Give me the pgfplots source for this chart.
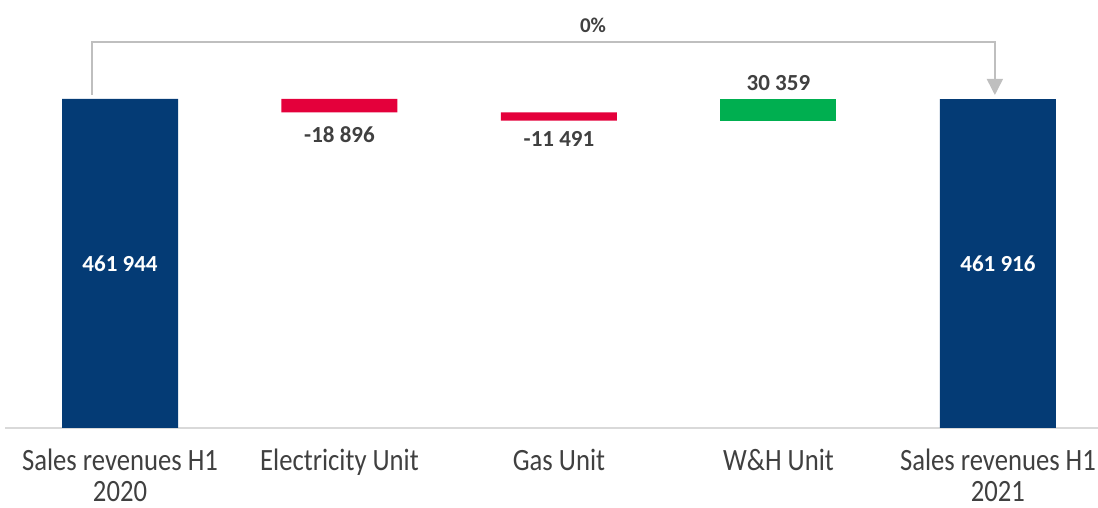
\documentclass[border=0pt]{standalone}
\usepackage{pgfplots}
\pgfplotsset{compat=1.18}
\usepackage{fontspec}
\setmainfont{Carlito}
\newfontfamily\tickfont{Carlito}[FakeStretch=0.86]
\usetikzlibrary{arrows.meta}
\definecolor{navy}{HTML}{043B75}
\definecolor{wred}{HTML}{E4003B}
\definecolor{wgreen}{HTML}{00AF50}
\definecolor{txtgray}{HTML}{404040}
\definecolor{axgray}{HTML}{D9D9D9}
\definecolor{congray}{HTML}{BFBFBF}
\newcommand{\nodepth}[1]{\raisebox{0pt}[\height][0pt]{#1}}
\begin{document}
\begin{tikzpicture}
\begin{axis}[
  at={(0,0)}, anchor=south west, scale only axis,
  width=1093pt, height=428pt,
  xmin=-0.524, xmax=4.456, ymin=0, ymax=600950,
  axis x line=bottom, axis y line=none,
  x axis line style={-, draw=axgray, line width=1.5pt},
  ytick=\empty, xtick={0,1,2,3,4}, major tick length=0pt,
  xticklabels={Sales revenues H1\\\nodepth{2020}, Electricity Unit, Gas Unit, W\&H Unit, Sales revenues H1\\\nodepth{2021}},
  xticklabel style={font=\tickfont\fontsize{31}{31}\selectfont, text=txtgray, align=center, anchor=north, inner sep=0pt, yshift=-21pt},
  ybar stacked, bar width=116pt,
  clip=false,
]
\addplot[draw=none, fill=none] coordinates {(0,0) (1,443048) (2,431557) (3,431557) (4,0)};
\addplot[draw=none, fill=navy] coordinates {(0,461944) (1,0) (2,0) (3,0) (4,461916)};
\addplot[draw=none, fill=wred] coordinates {(0,0) (1,18896) (2,11491) (3,0) (4,0)};
\addplot[draw=none, fill=wgreen] coordinates {(0,0) (1,0) (2,0) (3,30359) (4,0)};
\coordinate (l0) at (axis cs:0,230972);
\coordinate (l4) at (axis cs:4,230958);
\coordinate (l1) at (axis cs:1,412103);
\coordinate (l2) at (axis cs:2,405785);
\coordinate (l3) at (axis cs:3,483712);
\coordinate (lp) at (axis cs:2.155,565852);
\draw[congray, line width=1.5pt, -{Triangle[width=16pt,length=16pt]}] (axis cs:-0.1276,467570) -- (axis cs:-0.1276,541983) -- (axis cs:3.986,541983) -- (axis cs:3.986,467570);
\end{axis}
\tikzset{lbl/.style={font=\fontsize{23}{28}\selectfont\bfseries, text=txtgray, inner sep=0pt}}
\node[lbl, text=white] at (l0) {461 944};
\node[lbl, text=white] at (l4) {461 916};
\node[lbl] at (l1) {-18 896};
\node[lbl] at (l2) {-11 491};
\node[lbl] at (l3) {30 359};
\node[lbl, font=\fontsize{21}{26}\selectfont\bfseries] at (lp) {0\%};
\pgfresetboundingbox
\path[use as bounding box] (-5pt,-80pt) rectangle (1093pt,428pt);
\end{tikzpicture}
\end{document}
